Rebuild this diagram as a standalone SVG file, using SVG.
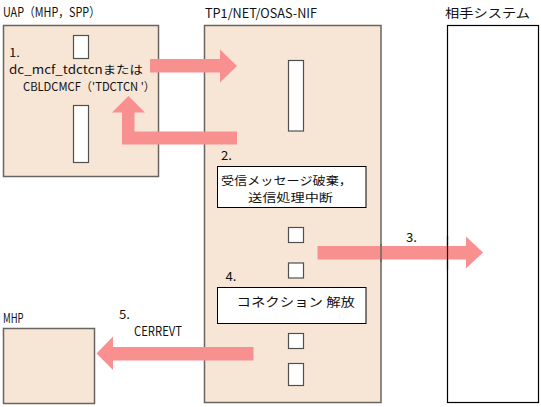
<svg xmlns="http://www.w3.org/2000/svg" width="541" height="407" viewBox="0 0 541 407">
<style>
text{font-family:"Noto Sans CJK JP","Liberation Sans",sans-serif;font-size:12.5px;fill:#111}
.tight{font-size:11.6px}
.sys{fill:#F7E6D6;stroke:#6a6460;stroke-width:1.5}
.peer{fill:#fff;stroke:#000;stroke-width:1.2}
.slot{fill:#fff;stroke:#505050;stroke-width:1.2}
.proc{fill:#fff;stroke:#000;stroke-width:1}
.arrow{fill:#F99090;stroke:none}
</style>
<rect width="541" height="407" fill="#fff"/>
<g id="uap">
<text x="3" y="17" textLength="97" lengthAdjust="spacingAndGlyphs">UAP（MHP，SPP）</text>
<rect class="sys" x="3.5" y="25.5" width="155" height="151"/>
<rect class="slot" x="73.5" y="35.5" width="15" height="23"/>
<rect class="slot" x="73.5" y="105.5" width="15" height="57"/>
<text class="tight" x="9" y="57" textLength="11" lengthAdjust="spacingAndGlyphs">1.</text>
<text class="tight" x="9" y="74" textLength="134" lengthAdjust="spacingAndGlyphs">dc_mcf_tdctcnまたは</text>
<text class="tight" x="23" y="91" textLength="132" lengthAdjust="spacingAndGlyphs">CBLDCMCF（'TDCTCN '）</text>
</g>
<g id="nif">
<text x="205" y="18" textLength="112" lengthAdjust="spacingAndGlyphs">TP1/NET/OSAS-NIF</text>
<rect class="sys" x="204.5" y="25.5" width="176.5" height="377"/>
<rect class="slot" x="288.5" y="60.5" width="15" height="70.5"/>
<rect class="slot" x="288.5" y="227.5" width="15" height="15"/>
<rect class="slot" x="288.5" y="263" width="15" height="15"/>
<rect class="slot" x="288.5" y="333.5" width="15" height="15"/>
<rect class="slot" x="288.5" y="363.5" width="15" height="22"/>
</g>
<g id="step2">
<text x="221" y="160" textLength="11" lengthAdjust="spacingAndGlyphs">2.</text>
<rect class="proc" x="217.5" y="166.5" width="148.5" height="41"/>
<text class="tight" x="221" y="185" textLength="131" lengthAdjust="spacingAndGlyphs">受信メッセージ破棄，</text>
<text class="tight" x="248" y="202" textLength="85" lengthAdjust="spacingAndGlyphs">送信処理中断</text>
</g>
<g id="step4">
<text x="225.5" y="281" textLength="11" lengthAdjust="spacingAndGlyphs">4.</text>
<rect class="proc" x="217.5" y="287.5" width="148.5" height="36" stroke="#222"/>
<text x="236.5" y="307" textLength="118.5" lengthAdjust="spacingAndGlyphs">コネクション 解放</text>
</g>
<g id="peer">
<text x="445" y="18" textLength="85" lengthAdjust="spacingAndGlyphs">相手システム</text>
<rect class="peer" x="447.5" y="25.5" width="91" height="377"/>
</g>
<g id="mhp">
<text x="3" y="323" textLength="20.5" lengthAdjust="spacingAndGlyphs">MHP</text>
<rect class="sys" x="3.5" y="328.5" width="91" height="75"/>
</g>
<g id="connectors">
<polygon class="arrow" points="150,59 220,59 220,49.5 237,66 220,82.5 220,72.5 150,72.5"/>
<polygon class="arrow" points="237,131.5 134.5,131.5 134.5,112.5 145,112.5 128.5,96 112,112.5 122,112.5 122,144.5 237,144.5"/>
<polygon class="arrow" points="317.5,246 466,246 466,236.5 483,252.5 466,268.5 466,259.5 317.5,259.5"/>
<polygon class="arrow" points="253.5,347 113,347 113,336.5 96.5,353.5 113,370 113,360.5 253.5,360.5"/>
<line x1="381" y1="244" x2="381" y2="262" stroke="#6a6460" stroke-width="1.5"/>
<line x1="447.5" y1="236" x2="447.5" y2="270" stroke="#000" stroke-width="1.2"/>
<text x="406" y="242" textLength="11" lengthAdjust="spacingAndGlyphs">3.</text>
<text x="119" y="319" textLength="11" lengthAdjust="spacingAndGlyphs">5.</text>
<text x="134" y="336" textLength="48" lengthAdjust="spacingAndGlyphs">CERREVT</text>
</g>
</svg>
